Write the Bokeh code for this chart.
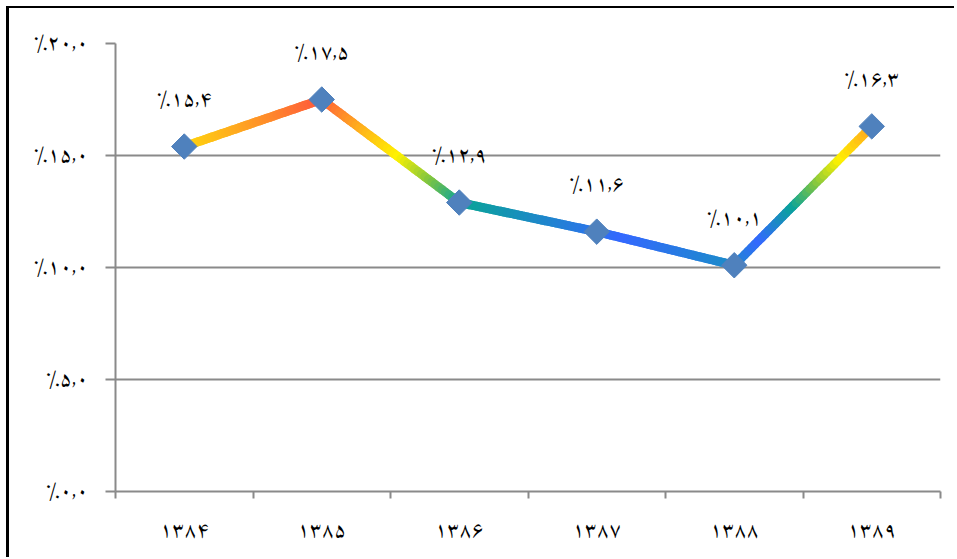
import numpy as np
from bokeh.plotting import figure
from bokeh.models import FixedTicker, ColumnDataSource, Range1d
from bokeh.core.properties import value
from bokeh.embed import file_html
from bokeh.resources import INLINE

# ---- data ----
years = ["۱۳۸۴", "۱۳۸۵", "۱۳۸۶", "۱۳۸۷", "۱۳۸۸", "۱۳۸۹"]
rates = [15.4, 17.5, 12.9, 11.6, 10.1, 16.3]
rate_labels = ["٪۱۵,۴", "٪۱۷,۵", "٪۱۲,۹", "٪۱۱,۶", "٪۱۰,۱", "٪۱۶,۳"]
y_ticks = [0, 5, 10, 15, 20]
y_tick_labels = ["٪۰,۰", "٪۵,۰", "٪۱۰,۰", "٪۱۵,۰", "٪۲۰,۰"]

# ---- styling ----
FONT = "Amiri"
FS = "21px"
grad_y = [10.0, 11.3, 12.8, 13.8, 14.9, 16.1, 17.5]
grad_c = ["#1a8fc4", "#3468ff", "#0aa39a", "#7cc443", "#fff200", "#ffb21c", "#ff5a3c"]

def hex2rgb(h):
    return np.array([int(h[i:i + 2], 16) for i in (1, 3, 5)], dtype=float)

grad_rgb = np.array([hex2rgb(c) for c in grad_c])

def color_at(v):
    rgb = [np.interp(v, grad_y, grad_rgb[:, k]) for k in range(3)]
    return "#%02x%02x%02x" % tuple(int(round(c)) for c in rgb)

xs_pos = [i + 0.5 for i in range(len(years))]

p = figure(width=948, height=551, output_backend="svg", toolbar_location=None,
           x_range=Range1d(0, len(years)), y_range=Range1d(0, 20),
           min_border_left=106, min_border_right=17, min_border_top=35, min_border_bottom=68)
p.styles = {"margin-left": "6px", "margin-top": "6px",
            "border-left": "3px solid black", "border-top": "2px solid black"}
p.outline_line_color = None
p.background_fill_color = "white"
p.border_fill_color = "white"

# grid
p.xgrid.grid_line_color = None
p.ygrid.grid_line_color = "#8a8a8a"
p.ygrid.grid_line_width = 2
p.ygrid.ticker = FixedTicker(ticks=y_ticks)

# y axis
p.yaxis.ticker = FixedTicker(ticks=y_ticks)
p.yaxis.major_label_overrides = {t: l for t, l in zip(y_ticks, y_tick_labels)}
p.yaxis.axis_line_color = "#8a8a8a"
p.yaxis.axis_line_width = 2
p.yaxis.major_tick_line_color = "#8a8a8a"
p.yaxis.major_tick_line_width = 2
p.yaxis.major_tick_out = 10
p.yaxis.major_tick_in = 0
p.yaxis.minor_tick_line_color = None
p.yaxis.major_label_standoff = 17
p.yaxis.major_label_text_font = FONT
p.yaxis.major_label_text_font_size = FS
p.yaxis.major_label_text_color = "black"

# x axis
p.xaxis.ticker = FixedTicker(ticks=xs_pos, minor_ticks=list(range(len(years) + 1)))
p.xaxis.major_label_overrides = {x: y for x, y in zip(xs_pos, years)}
p.xaxis.axis_line_color = "#8a8a8a"
p.xaxis.axis_line_width = 2
p.xaxis.major_tick_line_color = None
p.xaxis.minor_tick_line_color = "#8a8a8a"
p.xaxis.minor_tick_line_width = 2
p.xaxis.minor_tick_out = 7
p.xaxis.minor_tick_in = 0
p.xaxis.major_label_standoff = 13
p.xaxis.major_label_text_font = FONT
p.xaxis.major_label_text_font_size = FS
p.xaxis.major_label_text_color = "black"

# gradient line (colour by height)
seg_x, seg_y, seg_c = [], [], []
n = 40
for i in range(len(rates) - 1):
    x0, x1 = xs_pos[i], xs_pos[i + 1]
    y0, y1 = rates[i], rates[i + 1]
    for k in range(n):
        t0, t1 = k / n, (k + 1) / n
        ya, yb = y0 + (y1 - y0) * t0, y0 + (y1 - y0) * t1
        seg_x.append([x0 + (x1 - x0) * t0, x0 + (x1 - x0) * t1])
        seg_y.append([ya, yb])
        seg_c.append(color_at((ya + yb) / 2))
p.multi_line(xs="xs", ys="ys", line_color="c", line_width=9, line_cap="round",
             source=ColumnDataSource(dict(xs=seg_x, ys=seg_y, c=seg_c)))

src = ColumnDataSource(dict(x=xs_pos, y=rates, t=rate_labels))
p.scatter("x", "y", marker="square", angle=np.pi / 4, size=18,
          fill_color="#4f81bd", line_color="#4f81bd", source=src)
p.text("x", "y", text="t", source=src, y_offset=-47, text_align="center",
       text_baseline="middle", text_font=value(FONT), text_font_size=FS,
       text_color="black")

open("out.html", "w").write(file_html(p, INLINE))
